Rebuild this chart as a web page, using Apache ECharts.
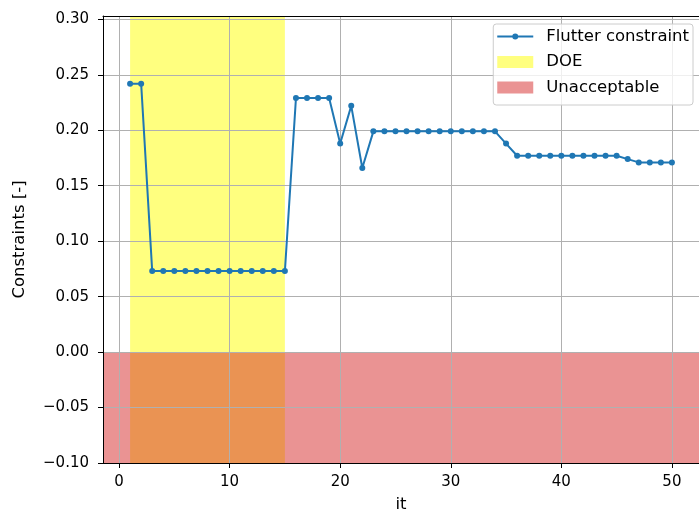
<!DOCTYPE html>
<html><head><meta charset="utf-8">
<script src="https://cdn.jsdelivr.net/npm/echarts@6/dist/echarts.min.js"></script>
<style>html,body{margin:0;padding:0;background:#fff}#c{width:699px;height:518px}</style>
</head><body><div id="c"></div>
<script>
const iterations = [1,2,3,4,5,6,7,8,9,10,11,12,13,14,15,16,17,18,19,20,21,22,23,24,25,26,27,28,29,30,31,32,33,34,35,36,37,38,39,40,41,42,43,44,45,46,47,48,49,50];
const flutter = [0.242,0.242,
  0.073,0.073,0.073,0.073,0.073,0.073,0.073,0.073,0.073,0.073,0.073,0.073,0.073,
  0.229,0.229,0.229,0.229,
  0.188,0.222,0.166,
  0.199,0.199,0.199,0.199,0.199,0.199,0.199,0.199,0.199,0.199,0.199,0.199,
  0.188,
  0.177,0.177,0.177,0.177,0.177,0.177,0.177,0.177,0.177,0.177,
  0.174,
  0.171,0.171,0.171,0.171];
const xTicks = [0,10,20,30,40,50];
const yTicks = [-0.10,-0.05,0.00,0.05,0.10,0.15,0.20,0.25,0.30];
const doeRange = [1, 15];
const unacceptableRange = [-0.10, 0.00];
const xRange = [-1.45, 52.45];
const yRange = [-0.10, 0.303];

const FONT = 'DejaVu Sans';
const chart = echarts.init(document.getElementById('c'), null, {renderer:'canvas'});
const yellow = 'rgba(255,255,0,0.5)';
const red = 'rgba(214,39,40,0.5)';
const lineIcon = 'path://M0,0 L0.01,0 L0,0.01 Z M36,12 L35.99,12 L36,11.99 Z M0,5 L36,5 L36,7 L0,7 Z M15,6 A3,3 0 1,1 21,6 A3,3 0 1,1 15,6 Z';

chart.setOption({
  animation: false,
  backgroundColor: '#fff',
  grid: {left: 103, right: -4, top: 16, bottom: 54, containLabel: false},
  legend: {
    orient: 'vertical', right: 6, top: 24,
    itemWidth: 36, itemHeight: 12, itemGap: 8.5,
    padding: [4, 4, 9, 4],
    backgroundColor: 'rgba(255,255,255,0.8)',
    borderColor: '#cccccc', borderWidth: 1, borderRadius: 3,
    selectedMode: false,
    textStyle: {fontFamily: FONT, fontSize: 16.5, color: '#000', padding: [0,0,0,8]},
    data: [
      {name: 'Flutter constraint', icon: lineIcon, itemStyle: {color: '#1f77b4', borderWidth: 0}},
      {name: 'DOE', icon: 'rect'},
      {name: 'Unacceptable', icon: 'rect'}
    ]
  },
  xAxis: [{
    type: 'value', position: 'bottom', min: xRange[0], max: xRange[1], splitNumber: 5, z: 1,
    axisLine: {show: true, onZero: false, lineStyle: {color: '#000', width: 1}},
    axisTick: {show: true, customValues: xTicks, length: 5, lineStyle: {color: '#000', width: 1}},
    axisLabel: {customValues: xTicks, margin: 12, fontFamily: FONT, fontSize: 15, color: '#000',
      formatter: v => String(v)},
    splitLine: {show: true, lineStyle: {color: '#b0b0b0', width: 1}},
    name: 'it', nameLocation: 'middle', nameGap: 33,
    nameTextStyle: {fontFamily: FONT, fontSize: 16.5, color: '#000'}
  }, {
    type: 'value', position: 'top', min: xRange[0], max: xRange[1], z: 1,
    axisLine: {show: true, onZero: false, lineStyle: {color: '#000', width: 1}},
    axisTick: {show: false}, axisLabel: {show: false}, splitLine: {show: false}
  }],
  yAxis: {
    type: 'value', min: yRange[0], max: yRange[1], interval: 0.05, z: 1,
    axisLine: {show: true, onZero: false, lineStyle: {color: '#000', width: 1}},
    axisTick: {show: true, customValues: yTicks, length: 5, lineStyle: {color: '#000', width: 1}},
    axisLabel: {customValues: yTicks, margin: 14, fontFamily: FONT, fontSize: 15, color: '#000',
      formatter: v => v.toFixed(2).replace('-', '\u2212')},
    splitLine: {show: true, lineStyle: {color: '#b0b0b0', width: 1}},
    name: 'Constraints [-]', nameLocation: 'middle', nameGap: 75, nameRotate: 90,
    nameTextStyle: {fontFamily: FONT, fontSize: 16.5, color: '#000'}
  },
  series: [{
    type: 'custom', name: 'DOE', z: 0, xAxisIndex: 0,
    itemStyle: {color: yellow},
    data: [[doeRange[0], doeRange[1]]],
    renderItem: (params, api) => {
      const cs = params.coordSys;
      const a = api.coord([api.value(0), yRange[0]]);
      const b = api.coord([api.value(1), yRange[0]]);
      return {type: 'rect', shape: {x: a[0], y: cs.y, width: b[0] - a[0], height: cs.height}, style: {fill: yellow}};
    }
  }, {
    type: 'custom', name: 'Unacceptable', z: 0, xAxisIndex: 0,
    itemStyle: {color: red},
    data: [[unacceptableRange[0], unacceptableRange[1]]],
    renderItem: (params, api) => {
      const cs = params.coordSys;
      const a = api.coord([xRange[0], api.value(0)]);
      const b = api.coord([xRange[0], api.value(1)]);
      return {type: 'rect', shape: {x: cs.x, y: b[1], width: cs.width, height: a[1] - b[1]}, style: {fill: red}};
    }
  }, {
    type: 'line', name: 'Flutter constraint', z: 3, xAxisIndex: 0,
    data: iterations.map((x, i) => [x, flutter[i]]),
    symbol: 'circle', symbolSize: 6, showSymbol: true,
    lineStyle: {color: '#1f77b4', width: 2},
    itemStyle: {color: '#1f77b4'}
  }]
});
</script></body></html>
